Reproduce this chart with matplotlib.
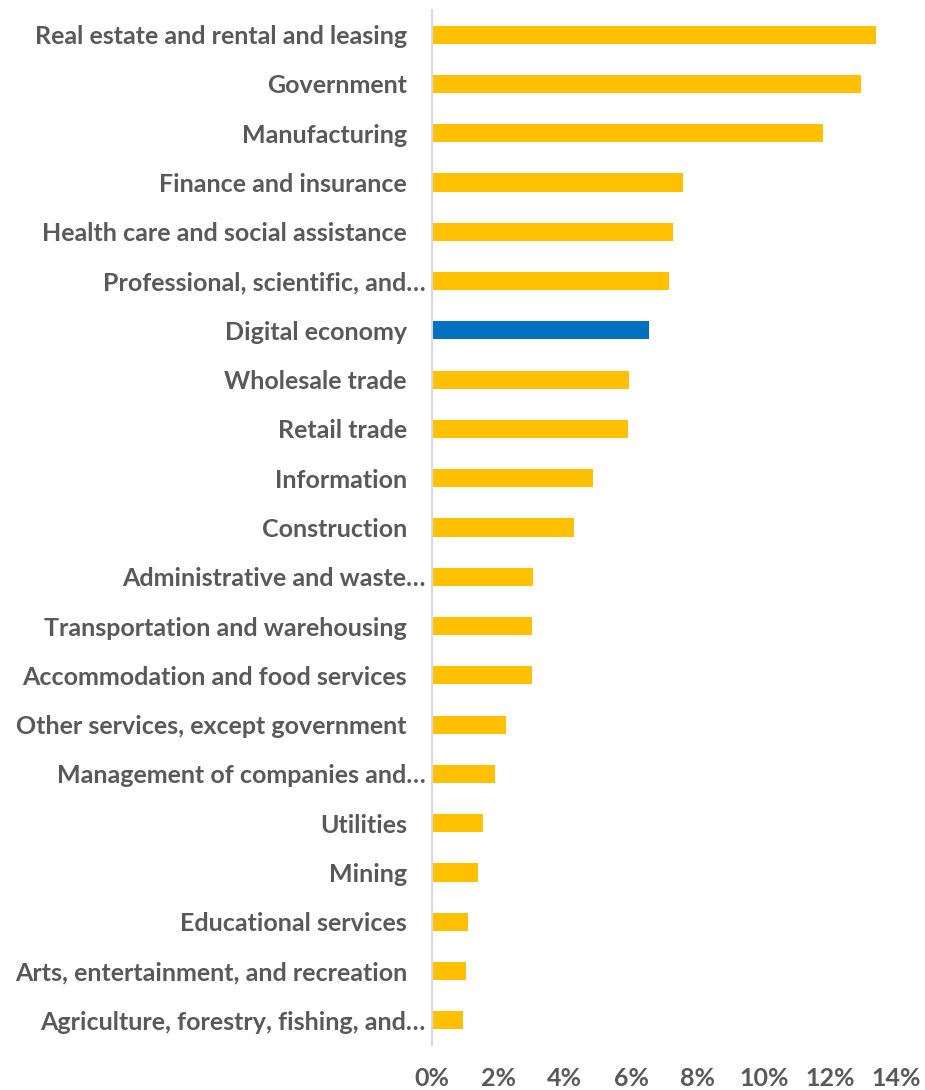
import matplotlib.pyplot as plt
from matplotlib.ticker import FuncFormatter
from matplotlib.transforms import ScaledTranslation

industries = [
    'Real estate and rental and leasing',
    'Government',
    'Manufacturing',
    'Finance and insurance',
    'Health care and social assistance',
    'Professional, scientific, and…',
    'Digital economy',
    'Wholesale trade',
    'Retail trade',
    'Information',
    'Construction',
    'Administrative and waste…',
    'Transportation and warehousing',
    'Accommodation and food services',
    'Other services, except government',
    'Management of companies and…',
    'Utilities',
    'Mining',
    'Educational services',
    'Arts, entertainment, and recreation',
    'Agriculture, forestry, fishing, and…',
]
share = [13.37, 12.92, 11.78, 7.56, 7.26, 7.14, 6.54, 5.93, 5.90, 4.85, 4.28,
         3.04, 3.01, 3.01, 2.23, 1.90, 1.54, 1.39, 1.08, 1.02, 0.93]
highlight = 'Digital economy'
xticks = [0, 2, 4, 6, 8, 10, 12, 14]

gold = '#FFC000'
blue = '#0070C0'
grey = '#595959'

plt.rcParams['font.family'] = ['Lato', 'DejaVu Sans']

fig = plt.figure(figsize=(9.25, 10.9), dpi=100)
ax = fig.add_axes([432 / 925, 1 - 1045 / 1090, 464.5 / 925, 1035 / 1090])

pos = list(range(len(industries)))
colors = [blue if name == highlight else gold for name in industries]
ax.barh(pos, share, height=0.37, color=colors)

ax.set_ylim(len(industries) - 0.5, -0.5)
ax.set_xlim(0, 14)
ax.set_yticks(pos)
ax.set_yticklabels(industries)
ax.set_xticks(xticks)
ax.xaxis.set_major_formatter(FuncFormatter(lambda v, _: f'{v:.0f}%'))

for s in ['top', 'right', 'bottom']:
    ax.spines[s].set_visible(False)
ax.spines['left'].set_color('#D9D9D9')
ax.spines['left'].set_linewidth(1.5)

ax.tick_params(axis='y', length=0, pad=18, labelsize=18, labelcolor=grey)
ax.tick_params(axis='x', length=0, pad=16, labelsize=18, labelcolor=grey)
for lbl in ax.get_yticklabels() + ax.get_xticklabels():
    lbl.set_fontweight('bold')

# shortened labels run a bit closer to the axis line
nudge = ScaledTranslation(19 / 100, 0, fig.dpi_scale_trans)
for lbl in ax.get_yticklabels():
    if lbl.get_text().endswith('…'):
        lbl.set_transform(lbl.get_transform() + nudge)

fig.savefig('out.png', dpi=100)
